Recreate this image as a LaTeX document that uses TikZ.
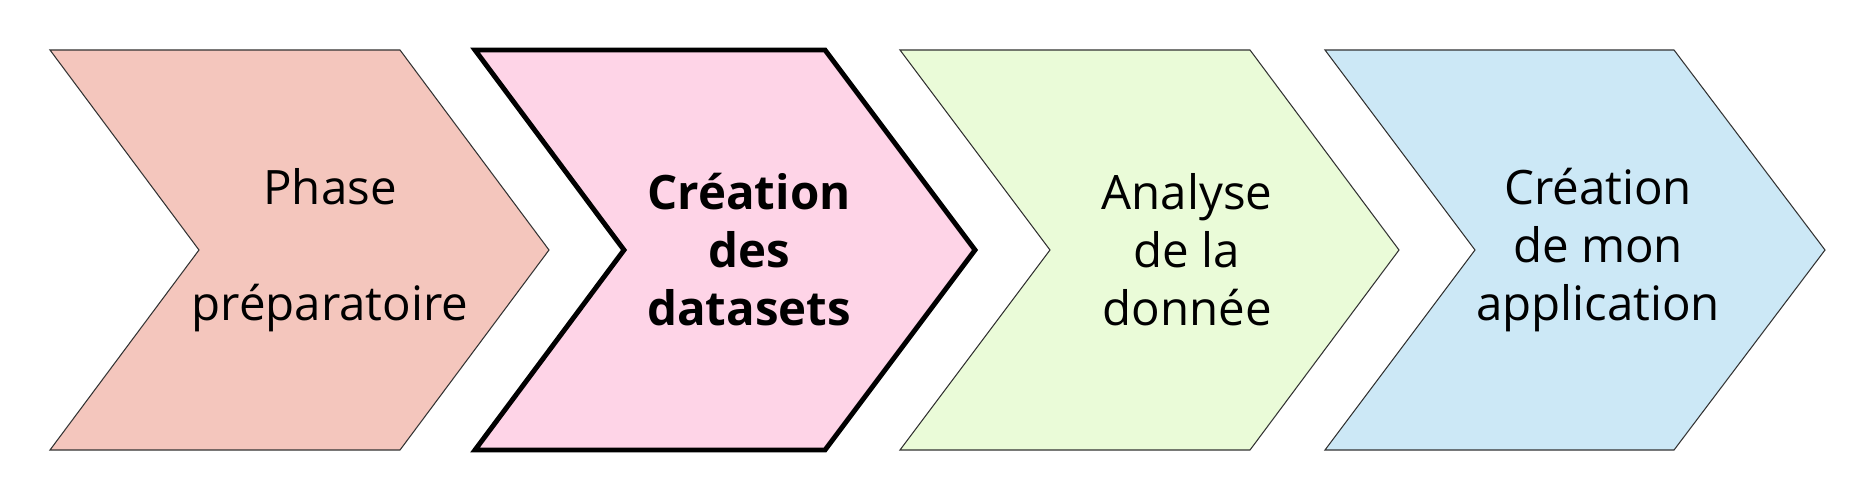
\documentclass[tikz,border=0pt]{standalone}
\usepackage{fontspec}
\setmainfont{Open Sans}
\definecolor{phasefill}{HTML}{F4C6BD}
\definecolor{datafill}{HTML}{FED4E7}
\definecolor{analysefill}{HTML}{EAFBD8}
\definecolor{appfill}{HTML}{CCE8F6}
\tikzset{
  chevron/.style={draw=black!80, line width=0.6pt, line join=miter},
  current/.style={draw=black, line width=2.8pt, line join=miter},
  label/.style={align=center, font=\fontsize{27}{33}\selectfont, inner sep=0pt}
}
\begin{document}
\begin{tikzpicture}[x=0.02cm, y=-0.02cm]
  \useasboundingbox (0,0) rectangle (1875,500);
  % stage shapes
  \draw[chevron, fill=phasefill]
    (50,50) -- (400,50) -- (549,250) -- (400,450) -- (50,450) -- (199,250) -- cycle;
  \draw[current, fill=datafill]
    (475,50) -- (825,50) -- (975,250) -- (825,450) -- (475,450) -- (624,250) -- cycle;
  \draw[chevron, fill=analysefill]
    (900,50) -- (1250,50) -- (1399,250) -- (1250,450) -- (900,450) -- (1050,250) -- cycle;
  \draw[chevron, fill=appfill]
    (1325,50) -- (1674,50) -- (1825,250) -- (1674,450) -- (1325,450) -- (1475,250) -- cycle;
  % stage labels
  \node[label] (phase) at (330,250) {Phase\\[33pt]préparatoire};
  \node[label, font=\fontsize{27}{33}\selectfont\bfseries] (datasets) at (749,250) {Création\\des\\datasets};
  \node[label] (analyse) at (1187,250) {Analyse\\de la\\donnée};
  \node[label] (appli) at (1598,250) {Création\\de mon\\application};
\end{tikzpicture}
\end{document}
